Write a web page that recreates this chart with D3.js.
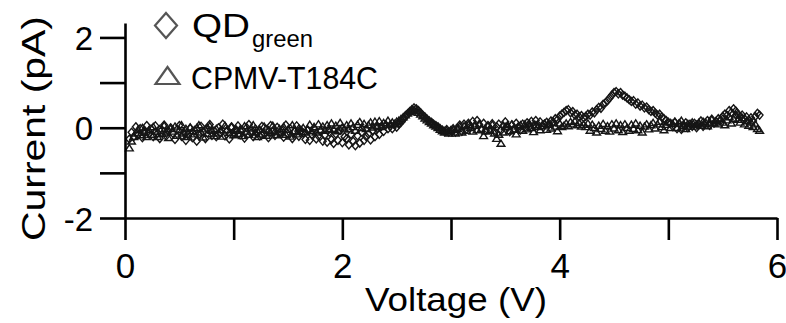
<!DOCTYPE html>
<html>
<head>
<meta charset="utf-8">
<script src="https://cdn.jsdelivr.net/npm/d3@7"></script>
<style>
  body { margin: 0; background: #fff; }
  svg { display: block; font-family: "Liberation Sans", Arial, sans-serif; }
</style>
</head>
<body>
<svg id="chart" width="786" height="323"></svg>
<script>
// voltage sweep: first point and step (V)
const vStart = 0.04;
const vStep = 0.02;

// QD green current (pA), one value per sweep point
const qdGreen = [
  -0.25,-0.1,-0.2,0.02,-0.16,-0.02,-0.22,-0.06,0.05,-0.14,
  -0.03,-0.2,0.04,-0.12,-0.24,-0.05,0.06,-0.18,-0.08,0.0,
  -0.12,-0.26,-0.04,0.05,-0.19,-0.1,-0.28,-0.14,-0.01,-0.22,
  -0.06,-0.3,-0.15,0.03,-0.1,-0.24,-0.02,0.07,-0.17,-0.07,
  -0.2,0.0,-0.11,0.08,-0.18,-0.06,-0.25,0.02,-0.13,-0.04,
  0.04,-0.16,-0.06,-0.23,0.0,0.07,-0.12,-0.2,-0.03,-0.1,
  -0.18,0.03,-0.13,-0.04,-0.22,0.05,-0.09,-0.17,0.01,-0.12,
  -0.05,-0.21,0.06,-0.14,-0.02,-0.24,-0.08,0.04,-0.19,-0.06,
  -0.12,-0.26,-0.06,-0.28,-0.15,-0.02,-0.25,-0.18,-0.08,-0.3,
  -0.16,-0.32,-0.1,-0.26,-0.35,-0.14,-0.28,-0.06,-0.33,-0.2,
  -0.24,-0.38,-0.15,-0.3,-0.4,-0.18,-0.34,-0.1,-0.28,-0.2,
  -0.14,-0.27,-0.06,-0.2,-0.02,-0.15,0.03,-0.08,0.06,-0.02,
  0.03,-0.02,0.06,0.01,0.08,0.12,0.18,0.25,0.3,0.36,
  0.4,0.44,0.42,0.38,0.33,0.28,0.24,0.19,0.15,0.12,
  0.08,0.05,0.02,-0.02,-0.05,-0.08,-0.04,-0.1,-0.06,-0.02,
  -0.1,0.0,0.06,-0.08,0.08,-0.04,0.1,0.03,0.14,0.05,
  0.16,0.07,-0.02,0.1,-0.06,0.05,-0.03,0.09,-0.08,0.02,
  0.08,-0.06,0.04,0.13,0.0,-0.09,0.06,-0.02,0.1,0.02,
  -0.05,0.08,0.0,0.11,0.02,0.14,0.04,0.16,0.06,0.13,
  0.05,0.08,0.12,0.07,0.15,0.13,0.2,0.18,0.26,0.3,
  0.34,0.38,0.4,0.33,0.36,0.28,0.3,0.24,0.27,0.22,
  0.25,0.3,0.28,0.35,0.33,0.4,0.45,0.43,0.52,0.55,
  0.6,0.66,0.72,0.78,0.8,0.75,0.78,0.72,0.7,0.66,
  0.62,0.58,0.6,0.52,0.55,0.48,0.5,0.44,0.46,0.4,
  0.36,0.38,0.32,0.28,0.3,0.24,0.2,0.16,0.12,0.1,
  0.03,0.12,-0.02,0.09,-0.04,0.06,0.11,0.0,0.08,0.03,
  0.1,0.0,0.08,0.15,0.03,0.11,0.16,0.05,0.19,0.1,
  0.14,0.2,0.16,0.25,0.3,0.27,0.38,0.34,0.42,0.37,
  0.3,0.25,0.28,0.2,0.24,0.17,0.22,0.15,0.25,0.32,
  0.28
];

// CPMV-T184C current (pA)
const cpmv = [
  -0.45,-0.3,-0.2,-0.12,-0.04,-0.16,0.0,-0.1,-0.2,-0.05,
  -0.15,0.02,-0.08,-0.2,-0.03,-0.13,0.05,-0.1,-0.22,-0.02,
  -0.08,0.03,-0.17,-0.05,0.06,-0.12,-0.02,-0.2,0.01,-0.07,
  -0.14,0.0,0.06,-0.1,-0.21,-0.03,-0.13,0.04,-0.06,-0.18,
  -0.02,-0.12,-0.05,-0.19,0.05,-0.04,-0.11,0.02,-0.16,-0.06,
  -0.13,-0.03,-0.18,0.04,-0.08,-0.15,-0.01,0.06,-0.1,-0.2,
  -0.04,-0.14,0.03,-0.17,-0.06,-0.11,0.05,-0.08,-0.16,-0.02,
  -0.1,0.02,-0.15,-0.04,-0.19,0.06,-0.07,-0.14,-0.01,-0.09,
  0.0,-0.1,-0.03,0.07,-0.07,0.02,-0.1,0.08,-0.04,0.03,
  -0.06,0.06,-0.02,0.1,-0.04,0.05,-0.07,0.11,0.01,-0.03,
  0.06,-0.03,0.1,0.02,-0.06,0.07,0.13,0.0,0.09,-0.02,
  0.06,0.12,0.01,0.14,0.05,0.15,0.02,0.11,0.07,0.16,
  0.07,0.12,0.09,0.14,0.16,0.2,0.24,0.28,0.32,0.35,
  0.38,0.4,0.37,0.34,0.3,0.26,0.21,0.17,0.13,0.1,
  0.06,0.03,0.0,-0.04,-0.07,-0.1,-0.06,-0.12,-0.08,-0.04,
  -0.12,-0.02,0.03,-0.1,0.04,-0.06,0.07,0.0,-0.08,0.05,
  -0.05,0.08,-0.03,-0.18,-0.08,0.04,-0.06,0.07,-0.12,-0.24,
  -0.15,-0.35,-0.1,0.02,0.06,-0.07,0.08,-0.04,-0.14,0.03,
  0.06,-0.06,0.08,-0.03,0.1,0.0,-0.09,0.06,0.02,-0.05,
  0.04,0.09,-0.04,0.07,-0.01,0.11,0.03,-0.07,0.1,0.02,
  0.05,0.1,0.04,0.13,0.08,0.15,0.06,0.11,0.03,0.07,
  0.02,0.1,-0.06,0.07,0.0,-0.1,0.05,-0.02,0.09,-0.06,
  0.04,-0.08,0.08,-0.01,0.1,-0.05,0.06,-0.09,0.08,0.0,
  -0.06,0.07,-0.02,0.1,-0.05,0.05,-0.1,0.03,0.08,-0.03,
  0.06,0.11,-0.01,0.08,0.14,0.02,-0.05,0.07,0.12,0.0,
  0.09,0.14,0.0,0.1,0.16,0.04,-0.02,0.09,0.03,0.12,
  0.03,0.07,0.11,0.05,0.14,0.08,0.04,0.12,0.18,0.1,
  0.15,0.08,0.2,0.12,0.06,0.17,0.24,0.1,0.2,0.28,
  0.18,0.12,0.22,0.08,0.15,0.05,0.12,0.02,0.08,-0.02,
  -0.06
];

const xTicks = [0, 1, 2, 3, 4, 5, 6];
const xTickLabels = ["0", "", "2", "", "4", "", "6"];
const yTicks = [-2, -1, 0, 1, 2];
const yTickLabels = ["-2", "", "0", "", "2"];

const svg = d3.select("#chart");

const x = d3.scaleLinear().domain([0, 6]).range([125, 777]);
const y = d3.scaleLinear().domain([-2, 2.32]).range([218, 23]);

// data markers (open)
const diamond = "M0,-4L3.4,0L0,4L-3.4,0Z";
const triangle = "M0,-3.4L3.9,2.8L-3.9,2.8Z";

function drawSeries(values, shape, cls) {
  svg.append("g").attr("class", cls)
    .selectAll("path")
    .data(values)
    .enter()
    .append("path")
    .attr("d", shape)
    .attr("transform", (d, i) => "translate(" + x(vStart + i * vStep) + "," + y(d) + ")")
    .attr("fill", "none")
    .attr("stroke", "#161616")
    .attr("stroke-width", 1.4);
}
drawSeries(cpmv, triangle, "cpmv");
drawSeries(qdGreen, diamond, "qd");

// x axis
const xAxis = svg.append("g")
  .attr("transform", "translate(0," + y(-2) + ")")
  .call(d3.axisBottom(x).tickValues(xTicks).tickSize(22).tickSizeOuter(0)
    .tickFormat((d, i) => xTickLabels[i]));
xAxis.selectAll("text")
  .attr("y", 60)
  .attr("dy", 0)
  .attr("font-size", 35)
  .attr("font-family", "Liberation Sans, Arial, sans-serif")
  .attr("fill", "#000");

// y axis
const yAxis = svg.append("g")
  .attr("transform", "translate(" + x(0) + ",0)")
  .call(d3.axisLeft(y).tickValues(yTicks).tickSize(25).tickSizeOuter(0)
    .tickFormat((d, i) => yTickLabels[i]));
yAxis.selectAll("text")
  .attr("x", -32)
  .attr("dy", 12)
  .attr("font-size", 33)
  .attr("font-family", "Liberation Sans, Arial, sans-serif")
  .attr("fill", "#000");

svg.selectAll(".domain, .tick line")
  .attr("stroke", "#000")
  .attr("stroke-width", 2.6);

// axis titles
svg.append("text")
  .attr("x", 365).attr("y", 311)
  .attr("font-size", 34)
  .attr("textLength", 182)
  .attr("lengthAdjust", "spacingAndGlyphs")
  .text("Voltage (V)");

svg.append("text")
  .attr("transform", "translate(45,241) rotate(-90)")
  .attr("font-size", 34)
  .attr("textLength", 225)
  .attr("lengthAdjust", "spacingAndGlyphs")
  .text("Current (pA)");

// legend
const legend = svg.append("g");
legend.append("path")
  .attr("d", "M166,13L177,25.5L166,38L155,25.5Z")
  .attr("fill", "none").attr("stroke", "#555").attr("stroke-width", 2.2);
legend.append("path")
  .attr("d", "M167.5,67L179.5,84L155.5,84Z")
  .attr("fill", "none").attr("stroke", "#555").attr("stroke-width", 2.2);
legend.append("text")
  .attr("x", 192).attr("y", 37)
  .attr("font-size", 33)
  .attr("textLength", 58)
  .attr("lengthAdjust", "spacingAndGlyphs")
  .text("QD");
legend.append("text")
  .attr("x", 252).attr("y", 47)
  .attr("font-size", 23)
  .attr("textLength", 61)
  .attr("lengthAdjust", "spacingAndGlyphs")
  .text("green");
legend.append("text")
  .attr("x", 191).attr("y", 89)
  .attr("font-size", 32)
  .attr("textLength", 187)
  .attr("lengthAdjust", "spacingAndGlyphs")
  .text("CPMV-T184C");
</script>
</body>
</html>
